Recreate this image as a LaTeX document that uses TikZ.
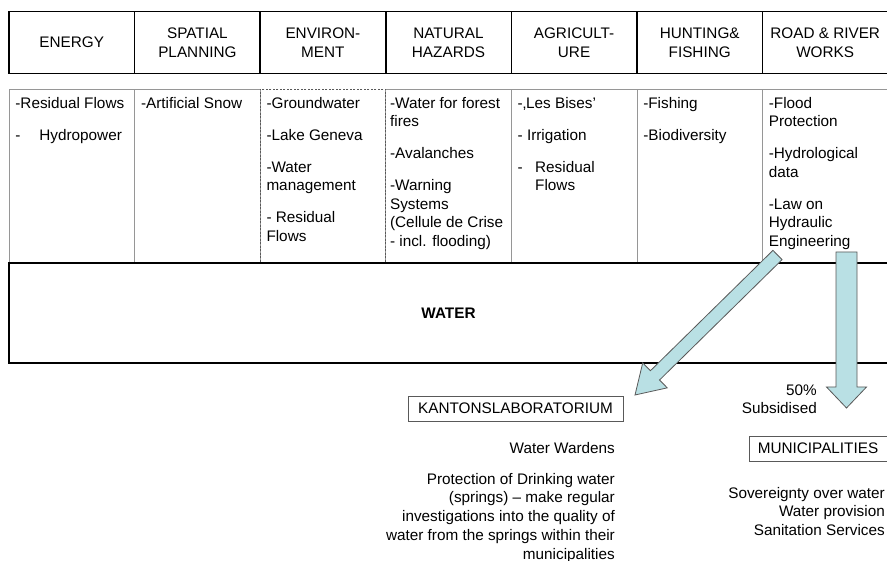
\documentclass[tikz,border=0pt]{standalone}
\usepackage{fontspec}
\setmainfont{Liberation Sans}
\usetikzlibrary{calc}
\definecolor{arrowblue}{RGB}{185,224,228}
\definecolor{celledge}{RGB}{150,150,150}

% block arrow from #1 to #2: half shaft, half head, head length
\newcommand{\fatarrow}[5]{%
  \path let \p1=(#1), \p2=(#2) in \pgfextra{%
    \pgfmathsetmacro\arrowang{atan2(\y2-\y1,\x2-\x1)}%
    \pgfmathsetmacro\arrowfull{veclen(\x2-\x1,\y2-\y1)}%
    \pgfmathsetmacro\arrowstem{\arrowfull-#5}%
    \xdef\arrowang{\arrowang}\xdef\arrowfull{\arrowfull}\xdef\arrowstem{\arrowstem}};
  \draw[bigarrow, shift={(#1)}, rotate=\arrowang]
    (0pt,-#3pt) -- (\arrowstem pt,-#3pt) -- (\arrowstem pt,-#4pt) -- (\arrowfull pt,0pt)
    -- (\arrowstem pt,#4pt) -- (\arrowstem pt,#3pt) -- (0pt,#3pt) -- cycle;}

\begin{document}
\begin{tikzpicture}[x=1pt, y=-1pt,
            every node/.style={font=\fontsize{15.3pt}{18.5pt}\selectfont},
            headcell/.style={draw, line width=1.6pt, minimum width=125.6pt, minimum height=62pt, align=center, font=\fontsize{15.3pt}{19pt}\selectfont},
            bodycell/.style={draw=celledge, line width=0.6pt, minimum width=125.6pt, minimum height=173pt},
            bodytext/.style={anchor=north west, inner sep=0pt, align=left},
            labelbox/.style={draw=gray!70!black, line width=0.8pt, minimum height=25pt, inner sep=0pt},
            sidetext/.style={inner sep=0pt, align=right},
            bigarrow/.style={fill=arrowblue, draw=black!65, line width=0.8pt, line join=miter}
        ]
            \useasboundingbox[fill=white] (0,0) rectangle (887,561);
            \clip (0,0) rectangle (887,561);

            % Header row - sectors
            \node[headcell] (energyh) at (71.8,42.5) {ENERGY};
            \node[headcell] (spatialh) at (197.4,42.5) {SPATIAL\\PLANNING};
            \node[headcell] (envh) at (322.9,42.5) {ENVIRON-\\MENT};
            \node[headcell] (hazardh) at (448.5,42.5) {NATURAL\\HAZARDS};
            \node[headcell] (agrih) at (574.1,42.5) {AGRICULT-\\URE};
            \node[headcell] (huntingh) at (699.7,42.5) {HUNTING\&\\FISHING};
            \node[headcell] (roadh) at (825.2,42.5) {ROAD \& RIVER\\WORKS};

            % Body row - topics per sector
            \node[bodycell] (energyb) at (71.8,175.5) {};
            \node[bodycell] (spatialb) at (197.4,175.5) {};
            \node[bodycell] (hazardb) at (448.5,175.5) {};
            \node[bodycell] (agrib) at (574.1,175.5) {};
            \node[bodycell] (huntingb) at (699.7,175.5) {};
            \node[bodycell] (roadb) at (825.2,175.5) {};
            \node[bodycell, draw=gray!70!black, dash pattern=on 2pt off 1.5pt] (envb) at (322.9,175.5) {};

            \node[bodytext] (energyt) at ([xshift=6.5pt, yshift=-8.5pt]energyb.north west)
                {-Residual Flows\\[13.5pt]\makebox[24pt][l]{-}Hydropower};
            \node[bodytext] (spatialt) at ([xshift=6.5pt, yshift=-8.5pt]spatialb.north west)
                {-Artificial Snow};
            \node[bodytext] (envt) at ([xshift=6.5pt, yshift=-8.5pt]envb.north west)
                {-Groundwater\\[13.5pt]-Lake Geneva\\[13.5pt]-Water\\management\\[13.5pt]- Residual\\Flows};
            \node[bodytext] (hazardt) at ([xshift=4.5pt, yshift=-8.5pt]hazardb.north west)
                {-Water for forest\\fires\\[13.5pt]-Avalanches\\[13.5pt]-Warning\\Systems\\(Cellule de Crise\\- incl. flooding)};
            \node[bodytext] (agrit) at ([xshift=6.5pt, yshift=-8.5pt]agrib.north west)
                {-‚Les Bises'\\[13.5pt]- Irrigation\\[13.5pt]\makebox[17.5pt][l]{-}Residual\\\hspace*{17.5pt}Flows};
            \node[bodytext] (huntingt) at ([xshift=6.5pt, yshift=-8.5pt]huntingb.north west)
                {-Fishing\\[13.5pt]-Biodiversity};
            \node[bodytext] (roadt) at ([xshift=6.5pt, yshift=-8.5pt]roadb.north west)
                {-Flood\\Protection\\[13.5pt]-Hydrological\\data\\[13.5pt]-Law on\\Hydraulic\\Engineering};

            % Common resource
            \node[draw, line width=1.6pt, minimum width=879pt, minimum height=100pt, font=\fontsize{15.3pt}{18.5pt}\selectfont\bfseries] (water) at (448.5,313) {WATER};

            % Arrows out of road & river works
            \coordinate (labtail) at (777.5,255);
            \coordinate (labtip) at (635,395);
            \fatarrow{labtail}{labtip}{6.5}{17.5}{28}
            \coordinate (muntail) at (846.5,252);
            \coordinate (muntip) at (846.5,408);
            \fatarrow{muntail}{muntip}{10.5}{20}{21}

            % Cantonal laboratory
            \node[labelbox, minimum width=215pt] (lab) at (515.5,408.5) {KANTONSLABORATORIUM};
            \node[sidetext, anchor=east] (wardens) at (615,448) {Water Wardens};
            \node[sidetext, anchor=north east, font=\fontsize{15.3pt}{18.7pt}\selectfont] (springs) at (615,473)
                {Protection of Drinking water\\(springs) -- make regular\\investigations into the quality of\\water from the springs within their\\municipalities};

            % Municipalities
            \node[sidetext, anchor=north east] (subsidy) at (817,384.5) {50\%\\Subsidised};
            \node[labelbox, minimum width=138pt] (muni) at (818,448.5) {MUNICIPALITIES};
            \node[sidetext, anchor=north east] (duties) at (885,487)
                {Sovereignty over water\\Water provision\\Sanitation Services};
        \end{tikzpicture}
\end{document}
